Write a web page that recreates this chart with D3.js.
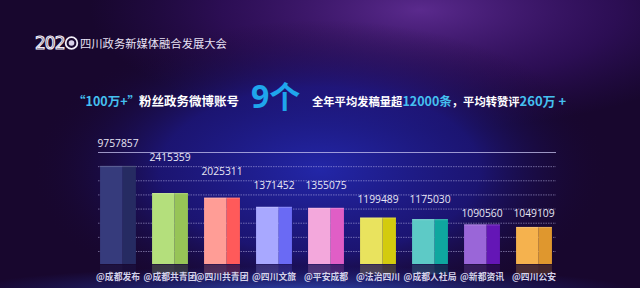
<!DOCTYPE html>
<html>
<head>
<meta charset="utf-8">
<script src="https://cdn.jsdelivr.net/npm/d3@7"></script>
<style>
	html, body { margin: 0; padding: 0; background: #18072e; }
	svg { display: block; }
</style>
</head>
<body>
<div id="chart"></div>
<script>
var accounts = ['@成都发布', '@成都共青团', '@四川共青团', '@四川文旅', '@平安成都', '@法治四川', '@成都人社局', '@新都资讯', '@四川公安'];
var fans = [9757857, 2415359, 2025311, 1371452, 1355075, 1199489, 1175030, 1090560, 1049109];
var frontColors = ['#363b7c', '#b4df7c', '#ff9d96', '#a8a8ff', '#f3a8dc', '#e9e35e', '#5dcac6', '#9a66d8', '#f5b24e'];
var sideColors = ['#262b62', '#97c457', '#ff5a5a', '#6a6af4', '#e05ec6', '#d3cb0e', '#0fa79f', '#6416b6', '#df972e'];

var width = 640, height = 288;

var svg = d3.select('#chart').append('svg').attr('width', width).attr('height', height);
var defs = svg.append('defs');

// background layers
var glowBlue = defs.append('radialGradient').attr('id', 'glowBlue')
	.attr('cx', 0.5).attr('cy', 0.5).attr('r', 0.5);
glowBlue.append('stop').attr('offset', '0%').attr('stop-color', '#2328ae').attr('stop-opacity', 0.95);
glowBlue.append('stop').attr('offset', '55%').attr('stop-color', '#1d1a8e').attr('stop-opacity', 0.7);
glowBlue.append('stop').attr('offset', '100%').attr('stop-color', '#18072e').attr('stop-opacity', 0);

var glowPurple = defs.append('radialGradient').attr('id', 'glowPurple')
	.attr('cx', 0.5).attr('cy', 0.5).attr('r', 0.5);
glowPurple.append('stop').attr('offset', '0%').attr('stop-color', '#5e2c92').attr('stop-opacity', 0.95);
glowPurple.append('stop').attr('offset', '60%').attr('stop-color', '#40157a').attr('stop-opacity', 0.5);
glowPurple.append('stop').attr('offset', '100%').attr('stop-color', '#30106a').attr('stop-opacity', 0);

var glowBottom = defs.append('radialGradient').attr('id', 'glowBottom')
	.attr('cx', 0.5).attr('cy', 0.5).attr('r', 0.5);
glowBottom.append('stop').attr('offset', '0%').attr('stop-color', '#3656cc').attr('stop-opacity', 0.8);
glowBottom.append('stop').attr('offset', '100%').attr('stop-color', '#2030a0').attr('stop-opacity', 0);

svg.append('rect').attr('width', width).attr('height', height).attr('fill', '#18072e');
svg.append('ellipse').attr('cx', 420).attr('cy', 10).attr('rx', 330).attr('ry', 120).attr('fill', 'url(#glowPurple)');
svg.append('ellipse').attr('cx', 320).attr('cy', 170).attr('rx', 290).attr('ry', 150).attr('fill', 'url(#glowBlue)');
svg.append('ellipse').attr('cx', 300).attr('cy', 292).attr('rx', 340).attr('ry', 26).attr('fill', 'url(#glowBottom)');

// header
var cjk = '"Noto Sans CJK SC", sans-serif';
var header = svg.append('g');
header.append('text').attr('x', 35).attr('y', 49)
	.attr('font-family', '"DejaVu Sans", sans-serif')
	.attr('font-size', 17).attr('letter-spacing', -1).attr('fill', 'none')
	.attr('stroke', '#f2eef8').attr('stroke-width', 1.1)
	.text('202');
header.append('circle').attr('cx', 71.5).attr('cy', 43).attr('r', 5.8)
	.attr('fill', 'none').attr('stroke', '#f2eef8').attr('stroke-width', 1.8);
header.append('circle').attr('cx', 71.5).attr('cy', 43).attr('r', 2.8).attr('fill', '#d8d0e8');
header.append('text').attr('x', 80).attr('y', 47.5)
	.attr('font-family', cjk).attr('font-size', 11.3).attr('fill', '#e8e2f4')
	.text('四川政务新媒体融合发展大会');

// subtitle
var blue = '#1fa6ec', light = '#45c0f0';
var sub = svg.append('text').attr('y', 106).attr('font-family', cjk).attr('font-weight', 'bold');
sub.append('tspan').attr('x', 73).attr('font-size', 12.5).attr('fill', light).text('“100万+”');
sub.append('tspan').attr('x', 139).attr('font-size', 12.5).attr('fill', '#ffffff').text('粉丝政务微博账号');
sub.append('tspan').attr('x', 251).attr('y', 108).attr('font-size', 32).attr('font-family', '"Open Sans", sans-serif').attr('fill', blue).text('9');
sub.append('tspan').attr('y', 108).attr('font-size', 31).attr('fill', blue).text('个');
sub.append('tspan').attr('x', 312).attr('y', 106).attr('font-size', 11.3).attr('fill', '#ffffff').text('全年平均发稿量超');
sub.append('tspan').attr('font-size', 12.5).attr('fill', light).text('12000条');
sub.append('tspan').attr('font-size', 11.3).attr('fill', '#ffffff').text('，平均转赞评');
sub.append('tspan').attr('font-size', 13).attr('fill', light).text('260万 +');

// scales
var x = d3.scaleBand().domain(accounts).range([92, 560]).paddingInner(0.31).paddingOuter(0.155);
var baseY = 264;
var y = d3.scaleLinear()
	.domain([0, 1000000, 1400000, 2500000, 10000000])
	.range([baseY, 230, 205, 192, 165]);
var gridY = d3.scaleLinear().domain([0, 7]).range([251, 152]);
var labelLevel = d3.scaleThreshold()
	.domain([1100000, 1300000, 2000000, 2200000, 3000000])
	.range([2, 3, 4, 5, 6, 7]);

// grid
var grid = svg.append('g').attr('transform', 'translate(98,0)')
	.call(d3.axisLeft(gridY).tickValues(d3.range(8)).tickSize(-458).tickFormat(''));
grid.select('.domain').remove();
grid.selectAll('.tick line')
	.attr('stroke', '#c8c4f0')
	.attr('stroke-opacity', function(d) { return d === 7 ? 0.75 : 0.55; })
	.attr('stroke-width', function(d) { return d === 7 ? 1.2 : 0.9; })
	.attr('stroke-dasharray', function(d) { return d === 7 ? null : '1.5,1'; });

// bars
var frontW = x.bandwidth() * 0.63;
var bars = svg.append('g').selectAll('g').data(fans).enter().append('g')
	.attr('transform', function(d, i) { return 'translate(' + x(accounts[i]) + ',0)'; });

bars.append('rect')
	.attr('x', 0).attr('y', function(d) { return y(d); })
	.attr('width', frontW).attr('height', function(d) { return baseY - y(d); })
	.attr('fill', function(d, i) { return frontColors[i]; });
bars.append('rect')
	.attr('x', frontW).attr('y', function(d) { return y(d); })
	.attr('width', x.bandwidth() - frontW).attr('height', function(d) { return baseY - y(d); })
	.attr('fill', function(d, i) { return sideColors[i]; });
bars.append('rect')
	.attr('x', 0).attr('y', function(d) { return y(d); })
	.attr('width', x.bandwidth()).attr('height', 1.2)
	.attr('fill', '#ffffff').attr('fill-opacity', 0.18);

// reflections
bars.append('rect')
	.attr('x', 0).attr('y', baseY + 0.5)
	.attr('width', frontW).attr('height', 10)
	.attr('fill', function(d, i) { return frontColors[i]; }).attr('fill-opacity', 0.22);
bars.append('rect')
	.attr('x', frontW).attr('y', baseY + 0.5)
	.attr('width', x.bandwidth() - frontW).attr('height', 10)
	.attr('fill', function(d, i) { return sideColors[i]; }).attr('fill-opacity', 0.22);

// value labels
bars.append('text')
	.attr('x', x.bandwidth() / 2)
	.attr('y', function(d) { return gridY(labelLevel(d)) - 5.5; })
	.attr('text-anchor', 'middle')
	.attr('font-family', '"Open Sans", sans-serif').attr('font-size', 10.3)
	.attr('fill', '#e8e6f4')
	.text(function(d) { return d; });

// account labels
bars.append('text')
	.attr('x', x.bandwidth() / 2).attr('y', 279.5)
	.attr('text-anchor', 'middle')
	.attr('font-family', cjk).attr('font-weight', 'bold').attr('font-size', 8.8)
	.attr('fill', '#d4d2ea')
	.text(function(d, i) { return accounts[i]; });
</script>
</body>
</html>
